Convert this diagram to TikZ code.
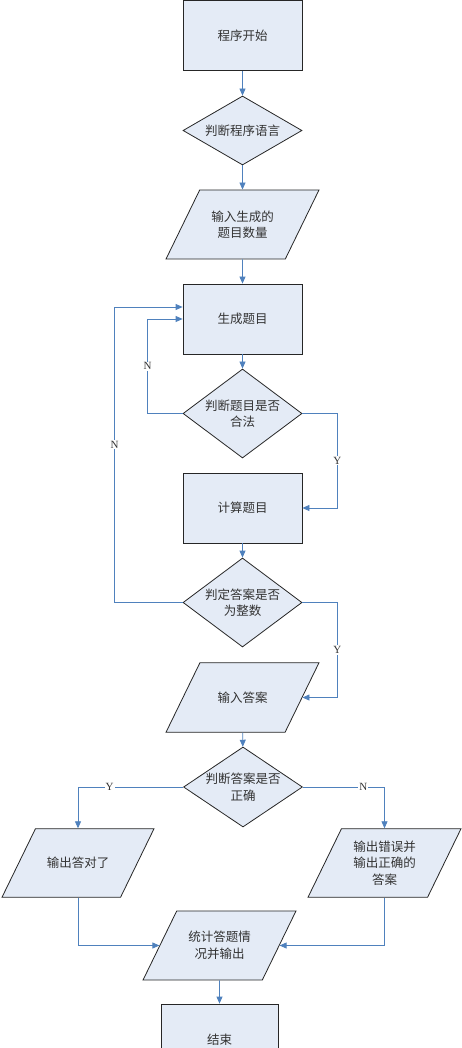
\documentclass[tikz,border=0pt]{standalone}
\usepackage{fontspec}
\setmainfont{Liberation Serif}
\newfontfamily\cjk{Noto Sans CJK SC}
\usetikzlibrary{shapes.geometric,arrows.meta}

\definecolor{boxfill}{RGB}{228,235,246}
\definecolor{flowblue}{RGB}{79,129,189}

\tikzset{
  base/.style={draw=black!85, fill=boxfill, line width=0.8pt, align=center,
    font=\cjk\fontsize{12.5}{16.5}\selectfont, text=black!80},
  procbox/.style={base, rectangle, minimum width=119pt, minimum height=70pt},
  decide/.style={base, diamond, aspect=1.6, inner xsep=-12pt, inner ysep=-2pt,
    minimum width=119pt},
  % #1 = vertical padding, so that the slant comes out right
  iobox/.style={base, trapezium, trapezium left angle=64, trapezium right angle=116,
    trapezium stretches body, inner ysep=#1, minimum width=153pt},
  iobox/.default=20.5pt,
  flow/.style={draw=flowblue, line width=0.8pt, -{Triangle[length=7pt,width=6pt]}},
  yn/.style={fill=white, inner sep=1pt, font=\fontsize{11}{12}\selectfont, text=black!80},
}

\begin{document}
\begin{tikzpicture}[x=1pt,y=-1pt]
  \useasboundingbox (0,0) rectangle (462,1048);

  % main column
  \node[procbox] (start) at (242.5,35.5) {程序开始};
  \node[decide, minimum height=69pt] (d1) at (242.5,130.5) {判断程序语言};
  \node[iobox] (p1) at (242.5,224.5) {输入生成的\\题目数量};
  \node[procbox] (gen) at (242.5,319) {生成题目};
  \node[decide, minimum height=89pt] (d2) at (242.5,413.5) {判断题目是否\\合法};
  \node[procbox] (calc) at (242.5,508) {计算题目};
  \node[decide, minimum height=89pt] (d3) at (242.5,602.5) {判定答案是否\\为整数};
  \node[iobox=29pt] (p2) at (242.5,697.5) {输入答案};
  \node[decide, minimum height=80pt] (d4) at (243,787) {判断答案是否\\正确};

  % branches
  \node[iobox=28.5pt, minimum width=152pt] (outl) at (78,863) {输出答对了};
  \node[iobox=12pt] (outr) at (384.5,863) {输出错误并\\输出正确的\\答案};
  \node[iobox] (stat) at (219.5,945.5) {统计答题情\\况并输出};
  \node[procbox, minimum width=117pt, minimum height=71pt] (finish) at (219.5,1039.5) {结束};

  \draw[flow] (start) -- (d1);
  \draw[flow] (d1) -- (p1);
  \draw[flow] (p1) -- (gen);
  \draw[flow] (gen) -- (d2);
  \draw[flow] (d2.west) -- ++(-35,0) |- node[yn,pos=0.25] {N} (gen.west);
  \draw[flow] (d2.east) -- ++(35,0) |- node[yn,pos=0.25] {Y} (calc.east);
  \draw[flow] (calc) -- (d3);
  \draw[flow] (d3.west) -- ++(-68,0) |- node[yn,pos=0.267] {N} ([yshift=12pt]gen.west);
  \draw[flow] (d3.east) -- ++(35,0) |- node[yn,pos=0.25] {Y} (p2.east);
  \draw[flow] (p2) -- (d4);
  \draw[flow] (d4.west) -| node[yn,pos=0.35] {Y} (outl.north);
  \draw[flow] (d4.east) -| node[yn,pos=0.37] {N} (outr.north);
  \draw[flow] (outl.south) |- (stat.west);
  \draw[flow] (outr.south) |- (stat.east);
  \draw[flow] (stat) -- (finish);
\end{tikzpicture}
\end{document}
